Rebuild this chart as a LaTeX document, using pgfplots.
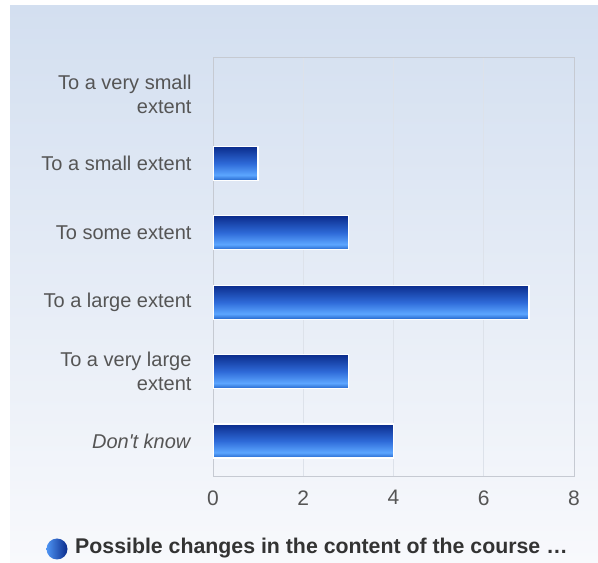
\documentclass[border=0pt]{standalone}
\usepackage{fontspec}
\setmainfont{Liberation Sans}
\usepackage{pgfplots}
\pgfplotsset{compat=1.18}

\definecolor{panelTop}{HTML}{D3DFF0}
\definecolor{panelBot}{HTML}{F8F9FC}
\definecolor{gridC}{HTML}{DDE2EA}
\definecolor{frameC}{HTML}{C6CAD2}
\definecolor{labelC}{HTML}{555555}
\definecolor{legC}{HTML}{333333}
\definecolor{barTop}{HTML}{0B2C8C}
\definecolor{barMid}{HTML}{2E6AD8}
\definecolor{barLight}{HTML}{5CA6FF}
\definecolor{barBot}{HTML}{2466CC}

% vertical shading, bbox maps to 25bp..75bp
\pgfdeclareverticalshading{barshade}{100bp}{
  color(0bp)=(barBot); color(25bp)=(barBot); color(33bp)=(barLight);
  color(50bp)=(barMid); color(75bp)=(barTop); color(100bp)=(barTop)}

\pgfplotsset{mybar/.style={draw=white, shading=barshade, line width=1.3bp}}

\begin{document}
\begin{tikzpicture}[x=1bp,y=1bp]
\fill[white] (0,0) rectangle (598,563);
\shade[top color=panelTop, bottom color=panelBot] (10,0) rectangle (598,557);

\begin{axis}[
    at={(213bp,86bp)}, anchor=south west,
    scale only axis,
    width=361bp, height=419bp,
    xmin=0, xmax=8,
    ymin=-0.52, ymax=5.52,
    xtick={0,2,4,6,8},
    ytick={0,1,2,3,4,5},
    yticklabels={{\textit{Don\textquotesingle t know}}, {To a very large\\extent}, {To a large extent},
                 {To some extent}, {To a small extent}, {To a very small\\extent}},
    yticklabel style={align=right, font=\fontsize{20bp}{24bp}\selectfont, text=labelC, xshift=-18bp},
    xticklabel style={font=\fontsize{21bp}{24bp}\selectfont, text=labelC, yshift=-10bp},
    /pgf/number format/assume math mode=true,
    major tick length=0pt,
    xmajorgrids,
    grid style={gridC, line width=1bp},
    axis line style={frameC, line width=1bp},
    xbar, bar width=34bp, bar shift=0pt,
]
% one plot per bar so each bar gets its own shading
\addplot[mybar] coordinates {(4,0)};  % Don't know
\addplot[mybar] coordinates {(3,1)};  % very large
\addplot[mybar] coordinates {(7,2)};  % large
\addplot[mybar] coordinates {(3,3)};  % some
\addplot[mybar] coordinates {(1,4)};  % small
\addplot[draw=none, fill=none] coordinates {(0,5)}; % very small
\end{axis}

\shade[left color=barLight!70!barMid, right color=barTop] (57,14) circle (10.5);
\node[anchor=west, inner sep=0pt, font=\fontsize{21.3bp}{24bp}\selectfont\bfseries, text=legC]
  at (75,15) {Possible changes in the content of the course …};

\pgfresetboundingbox
\path (0,0) rectangle (598,563);
\end{tikzpicture}
\end{document}
